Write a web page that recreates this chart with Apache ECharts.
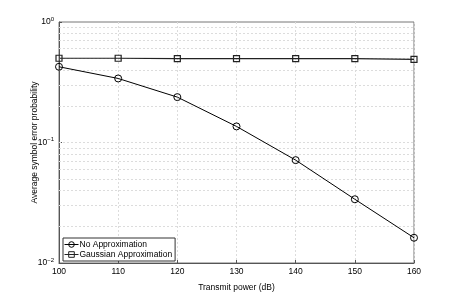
<!DOCTYPE html>
<html>
<head>
<meta charset="utf-8">
<script src="https://cdn.jsdelivr.net/npm/echarts@6/dist/echarts.min.js"></script>
<style>
html,body{margin:0;padding:0;background:#fff;}
#chart{width:457px;height:297px;}
</style>
</head>
<body>
<div id="chart"></div>
<script>
var powers = [100, 110, 120, 130, 140, 150, 160];
var noApprox = [0.425, 0.34, 0.238, 0.136, 0.0714, 0.0338, 0.0162];
var gaussApprox = [0.5, 0.5, 0.497, 0.497, 0.497, 0.496, 0.49];
var minorGrid = [0.02, 0.03, 0.04, 0.05, 0.06, 0.07, 0.08, 0.09, 0.1, 0.2, 0.3, 0.4, 0.5, 0.6, 0.7, 0.8, 0.9];
var seriesNames = ['No Approximation', 'Gaussian Approximation'];
var xTitle = 'Transmit power (dB)';
var yTitle = 'Average symbol error probability';

function pairs(xs, ys) { return xs.map(function (x, i) { return [x, ys[i]]; }); }

var font = 'Liberation Sans, Arial, Helvetica, sans-serif';
var gridLine = {color: '#dcdcdc', type: [2, 2], width: 1};
var chart = echarts.init(document.getElementById('chart'), null, {renderer: 'canvas'});
chart.setOption({
  animation: false,
  backgroundColor: '#fff',
  textStyle: {fontFamily: font},
  grid: {left: 59, right: 43, top: 22, bottom: 33, show: true, borderColor: '#777', borderWidth: 1, backgroundColor: 'transparent'},
  legend: {
    left: 63, top: 238, orient: 'vertical',
    itemGap: 1, itemWidth: 14, itemHeight: 7,
    padding: [2, 3, 2, 1],
    borderColor: '#333', borderWidth: 1, borderRadius: 0,
    backgroundColor: '#fff',
    itemStyle: {borderWidth: 1},
    lineStyle: {width: 1},
    textStyle: {fontFamily: font, fontSize: 8.5, color: '#000', padding: [0, 0, 0, -4]},
    data: seriesNames
  },
  xAxis: {
    type: 'value', min: 100, max: 160, interval: 10,
    name: xTitle, nameLocation: 'middle', nameGap: 20,
    nameTextStyle: {fontFamily: font, fontSize: 8.5, color: '#000'},
    axisLine: {show: true, lineStyle: {color: '#555', width: 1}},
    axisTick: {show: true, inside: true, length: 3, lineStyle: {color: '#555'}},
    axisLabel: {fontFamily: font, fontSize: 8.5, color: '#000', margin: 4},
    splitLine: {show: true, lineStyle: gridLine}
  },
  yAxis: {
    type: 'log', logBase: 10, min: 0.01, max: 1,
    name: yTitle, nameLocation: 'middle', nameGap: 20, nameMoveOverlap: false,
    nameTextStyle: {fontFamily: font, fontSize: 8.5, color: '#000'},
    axisLine: {show: true, lineStyle: {color: '#555', width: 1}},
    axisTick: {show: true, inside: true, length: 3, lineStyle: {color: '#555'}},
    axisLabel: {
      fontFamily: font, color: '#000', margin: 5,
      formatter: function (v) {
        var e = Math.round(Math.log10(v));
        return '{b|10}{s|' + (e < 0 ? '\u2212' + (-e) : e) + '}';
      },
      rich: {
        b: {fontFamily: font, fontSize: 8.5, color: '#000', lineHeight: 12},
        s: {fontFamily: font, fontSize: 6, color: '#000', verticalAlign: 'top', lineHeight: 12, padding: [0, 0, 6, 0]}
      }
    },
    splitLine: {show: false}
  },
  series: [
    {
      name: 'grid', type: 'line', data: [], z: 0, zlevel: 0,
      markLine: {
        silent: true, symbol: ['none', 'none'], label: {show: false},
        lineStyle: gridLine,
        data: minorGrid.map(function (v) { return {yAxis: v}; }),
        animation: false
      }
    },
    {
      name: seriesNames[0], type: 'line',
      data: pairs(powers, noApprox),
      symbol: 'circle', symbolSize: 7, showAllSymbol: true,
      itemStyle: {color: 'rgba(255,255,255,0)', borderColor: '#000', borderWidth: 1},
      lineStyle: {color: '#000', width: 1},
      z: 5
    },
    {
      name: seriesNames[1], type: 'line',
      data: pairs(powers, gaussApprox),
      symbol: 'rect', symbolSize: 6, showAllSymbol: true,
      itemStyle: {color: 'rgba(255,255,255,0)', borderColor: '#222', borderWidth: 1.2},
      lineStyle: {color: '#222', width: 1.2},
      z: 5
    }
  ]
});
</script>
</body>
</html>
